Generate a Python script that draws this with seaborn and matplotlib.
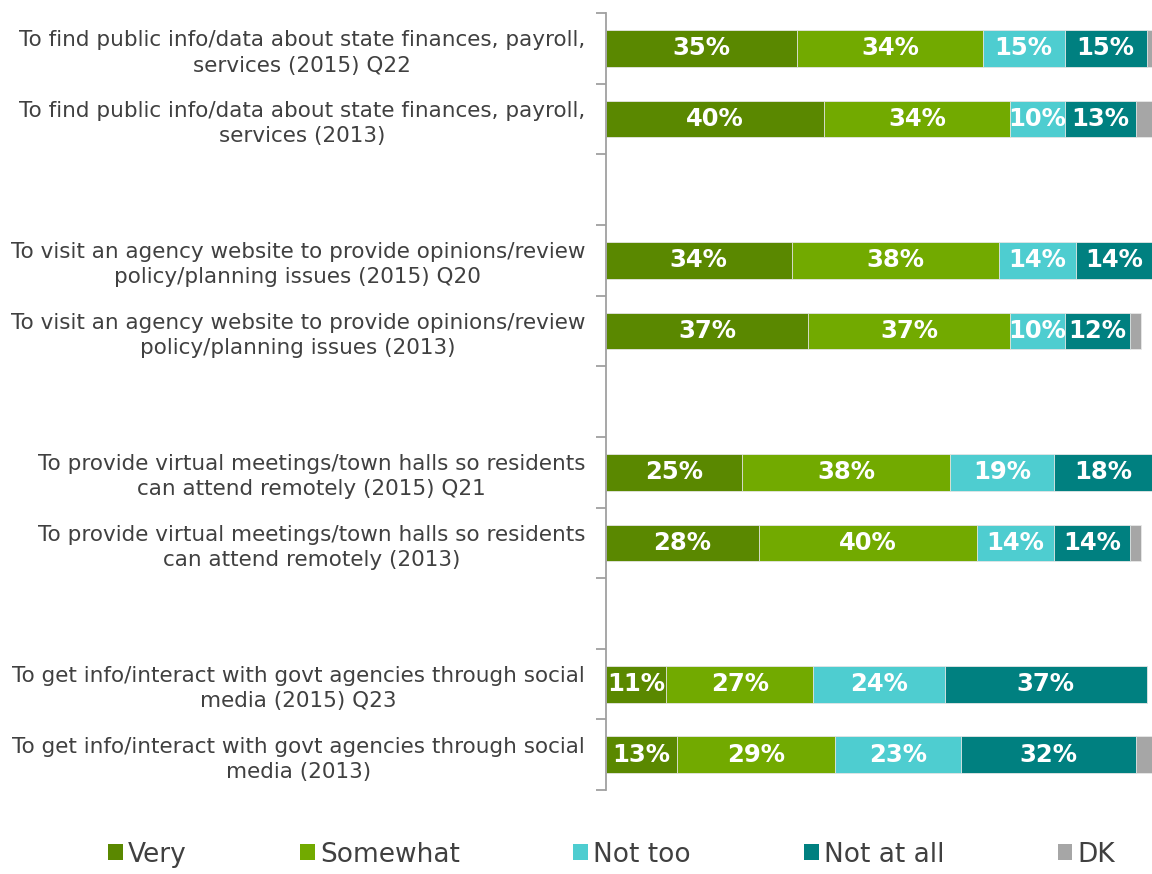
import matplotlib
matplotlib.use("Agg")
import matplotlib.pyplot as plt
from matplotlib.patches import Patch
import numpy as np
import pandas as pd
import seaborn as sns

# Survey items, top to bottom
items = [
    "To find public info/data about state finances, payroll,\nservices (2015) Q22",
    "To find public info/data about state finances, payroll,\nservices (2013)",
    "To visit an agency website to provide opinions/review\npolicy/planning issues (2015) Q20",
    "To visit an agency website to provide opinions/review\npolicy/planning issues (2013)",
    "To provide virtual meetings/town halls so residents\ncan attend remotely (2015) Q21",
    "To provide virtual meetings/town halls so residents\ncan attend remotely (2013)",
    "To get info/interact with govt agencies through social\nmedia (2015) Q23",
    "To get info/interact with govt agencies through social\nmedia (2013)",
]
# Row slots on the axis (gaps separate the four question pairs)
slots = [0, 1, 3, 4, 6, 7, 9, 10]

series = ["Very", "Somewhat", "Not too", "Not at all", "DK"]
very = [35, 40, 34, 37, 25, 28, 11, 13]
somewhat = [34, 34, 38, 37, 38, 40, 27, 29]
not_too = [15, 10, 14, 10, 19, 14, 24, 23]
not_at_all = [15, 13, 14, 12, 18, 14, 37, 32]
dk = [1, 3, 0, 2, 0, 2, 0, 3]

colors = ["#5a8800", "#72aa00", "#4ecdd0", "#008080", "#a6a6a6"]

values = np.array([very, somewhat, not_too, not_at_all, dk], dtype=float)
cum = np.cumsum(values, axis=0)

sns.set_theme(style="white")
plt.rcParams["font.family"] = ["DejaVu Sans"]

fig = plt.figure(figsize=(11.52, 8.74), dpi=100)
ax = fig.add_axes([0.526, 0.096, 0.474, 0.889])

# Stacked bars: draw cumulative totals from the outermost segment inwards
for k in range(len(series) - 1, -1, -1):
    df = pd.DataFrame({"total": cum[k], "slot": slots})
    sns.barplot(data=df, x="total", y="slot", orient="h", native_scale=True,
                color=colors[k], saturation=1, width=0.52,
                edgecolor="#e8e8e8", linewidth=0.6, ax=ax)

# Percentage labels centred in the four rated segments
for k in range(4):
    for i, s in enumerate(slots):
        v = values[k, i]
        if v <= 0:
            continue
        ax.text(cum[k, i] - v / 2, s, f"{int(v)}%", ha="center", va="center",
                color="white", fontsize=17.5, fontweight="bold")

ax.set_xlim(0, 100)
ax.set_ylim(10.5, -0.5)
ax.set_xlabel("")
ax.set_ylabel("")
ax.set_xticks([])

ax.set_yticks(slots)
ax.set_yticklabels(items, fontsize=15.5, color="#404040", linespacing=1.32)
for t in ax.get_yticklabels():
    t.set_multialignment("center")
ax.set_yticks(np.arange(-0.5, 11, 1), minor=True)
ax.tick_params(axis="y", which="major", length=0, pad=15)
ax.tick_params(axis="y", which="minor", length=7, width=1.3, color="#a0a0a0", left=True)

for side in ["top", "right", "bottom"]:
    ax.spines[side].set_visible(False)
ax.spines["left"].set_color("#a0a0a0")
ax.spines["left"].set_linewidth(1.3)

handles = [Patch(facecolor=c, edgecolor="none") for c in colors]
fig.legend(handles, series, loc="lower center", bbox_to_anchor=(0.531, -0.02),
           ncol=5, frameon=False, fontsize=19, labelcolor="#404040",
           handlelength=0.55, handleheight=0.55, handletextpad=0.2,
           columnspacing=4.3)

fig.savefig("out.png", dpi=100)
